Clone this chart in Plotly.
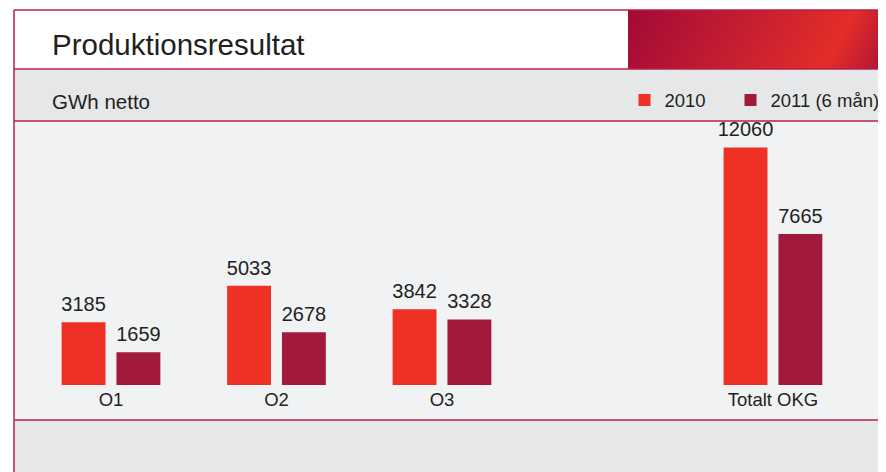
import zlib, struct, base64
import numpy as np
import plotly.graph_objects as go

# ---- data ----
categories = ["O1", "O2", "O3", "Totalt OKG"]
axis_order = ["O1", "O2", "O3", " ", "Totalt OKG"]
series_names = ["2010", "2011 (6 mån)"]
values_2010 = [3185, 5033, 3842, 12060]
values_2011 = [1659, 2678, 3328, 7665]
title_text = "Produktionsresultat"
unit_text = "GWh netto"

# ---- styling ----
OFF = 8            # page body margin of the html page
W, H = 886 - OFF, 472 - OFF
FONT = "Liberation Sans, Arial, sans-serif"
C2010 = "#ef3024"
C2011 = "#a11a3b"
LINE = "#b5204a"
GRAY = "#e6e7e9"
PLOT = "#f1f2f4"
TXT = "#231f20"
GAP = 0.337


def px(x):
    return (x - OFF) / W


def py(y):
    return (472 - y) / H


def gradient_png(w, h):
    xs = np.arange(w)[None, :]
    ys = np.arange(h)[:, None]
    u = xs + 0.52 * ys
    stops_u = [0, 120, 226, 289]
    stops_c = [(163, 10, 55), (196, 30, 50), (228, 45, 41), (172, 18, 56)]
    img = np.zeros((h, w, 3), dtype=np.uint8)
    for k in range(3):
        img[:, :, k] = np.interp(u, stops_u, [c[k] for c in stops_c]).astype(np.uint8)
    raw = b"".join(b"\x00" + img[r].tobytes() for r in range(h))

    def chunk(tag, data):
        return (struct.pack(">I", len(data)) + tag + data +
                struct.pack(">I", zlib.crc32(tag + data) & 0xffffffff))
    png = (b"\x89PNG\r\n\x1a\n" +
           chunk(b"IHDR", struct.pack(">IIBBBBB", w, h, 8, 2, 0, 0, 0)) +
           chunk(b"IDAT", zlib.compress(raw, 9)) +
           chunk(b"IEND", b""))
    return "data:image/png;base64," + base64.b64encode(png).decode()


fig = go.Figure()
series = ((series_names[0], values_2010, C2010, "legend"),
          (series_names[1], values_2011, C2011, "legend2"))
for name, vals, col, leg in series:
    fig.add_trace(go.Bar(
        name=name, x=categories, y=vals, legend=leg,
        marker=dict(color=col, line=dict(width=0)),
        hoverinfo="skip"))
# value labels, grouped next to each other like the bars
for name, vals, col, leg in series:
    fig.add_trace(go.Scatter(
        name=name, x=categories, y=vals, mode="markers+text", showlegend=False,
        marker=dict(size=8, opacity=0, color=col),
        text=[str(v) for v in vals], textposition="top center",
        textfont=dict(family=FONT, size=20, color=TXT), cliponaxis=False,
        hoverinfo="skip"))

shapes = []
# backgrounds
shapes.append(dict(type="rect", xref="paper", yref="paper", x0=px(14), x1=1, y0=py(69), y1=py(10),
                   fillcolor="white", line=dict(width=0), layer="below"))
shapes.append(dict(type="rect", xref="paper", yref="paper", x0=px(14), x1=1, y0=py(121), y1=py(69),
                   fillcolor=GRAY, line=dict(width=0), layer="below"))
shapes.append(dict(type="rect", xref="paper", yref="paper", x0=px(14), x1=1, y0=py(420), y1=py(121),
                   fillcolor=PLOT, line=dict(width=0), layer="below"))
shapes.append(dict(type="rect", xref="paper", yref="paper", x0=px(14), x1=1, y0=0, y1=py(420),
                   fillcolor=GRAY, line=dict(width=0), layer="below"))
# frame lines
for yy in (10, 69, 121, 420):
    shapes.append(dict(type="line", xref="paper", yref="paper", x0=px(14), x1=1, y0=py(yy), y1=py(yy),
                       line=dict(color=LINE, width=1.5), layer="above"))
shapes.append(dict(type="line", xref="paper", yref="paper", x0=px(14), x1=px(14), y0=0, y1=py(10),
                   line=dict(color=LINE, width=1.5), layer="above"))

images = [dict(source=gradient_png(258, 59), xref="paper", yref="paper",
               x=px(628), y=py(10), sizex=258 / W, sizey=59 / H,
               xanchor="left", yanchor="top", sizing="stretch", layer="above")]

annotations = [
    dict(text=title_text, xref="paper", yref="paper", x=px(50), y=py(44.5), xanchor="left", yanchor="middle",
         showarrow=False, font=dict(family=FONT, size=29.5, color=TXT)),
    dict(text=unit_text, xref="paper", yref="paper", x=px(50), y=py(101), xanchor="left", yanchor="middle",
         showarrow=False, font=dict(family=FONT, size=20.5, color=TXT)),
]

legend_style = dict(orientation="h", xanchor="left", yanchor="middle", y=py(100.5),
                    bgcolor="rgba(0,0,0,0)", font=dict(family=FONT, size=18.5, color=TXT))

fig.update_layout(
    width=W, height=H, template="none",
    margin=dict(l=0, r=0, t=0, b=0),
    paper_bgcolor="white", plot_bgcolor="rgba(0,0,0,0)",
    barmode="group", bargap=GAP, bargroupgap=0.2,
    scattermode="group", scattergap=GAP,
    showlegend=True,
    legend=dict(x=px(624.5), **legend_style),
    legend2=dict(x=px(730.5), **legend_style),
    xaxis=dict(type="category", categoryorder="array", categoryarray=axis_order,
               domain=[px(14), 1], range=[-0.586, 4.683], showgrid=False, zeroline=False,
               showline=False, ticks="", automargin=False, ticklabelstandoff=1,
               tickfont=dict(family=FONT, size=18.5, color=TXT)),
    yaxis=dict(domain=[py(385), py(122)], range=[0, 13350], showgrid=False, zeroline=False,
               showline=False, showticklabels=False, ticks="", automargin=False),
    shapes=shapes, images=images, annotations=annotations,
    font=dict(family=FONT, color=TXT),
)

fig.write_html("out.html")
